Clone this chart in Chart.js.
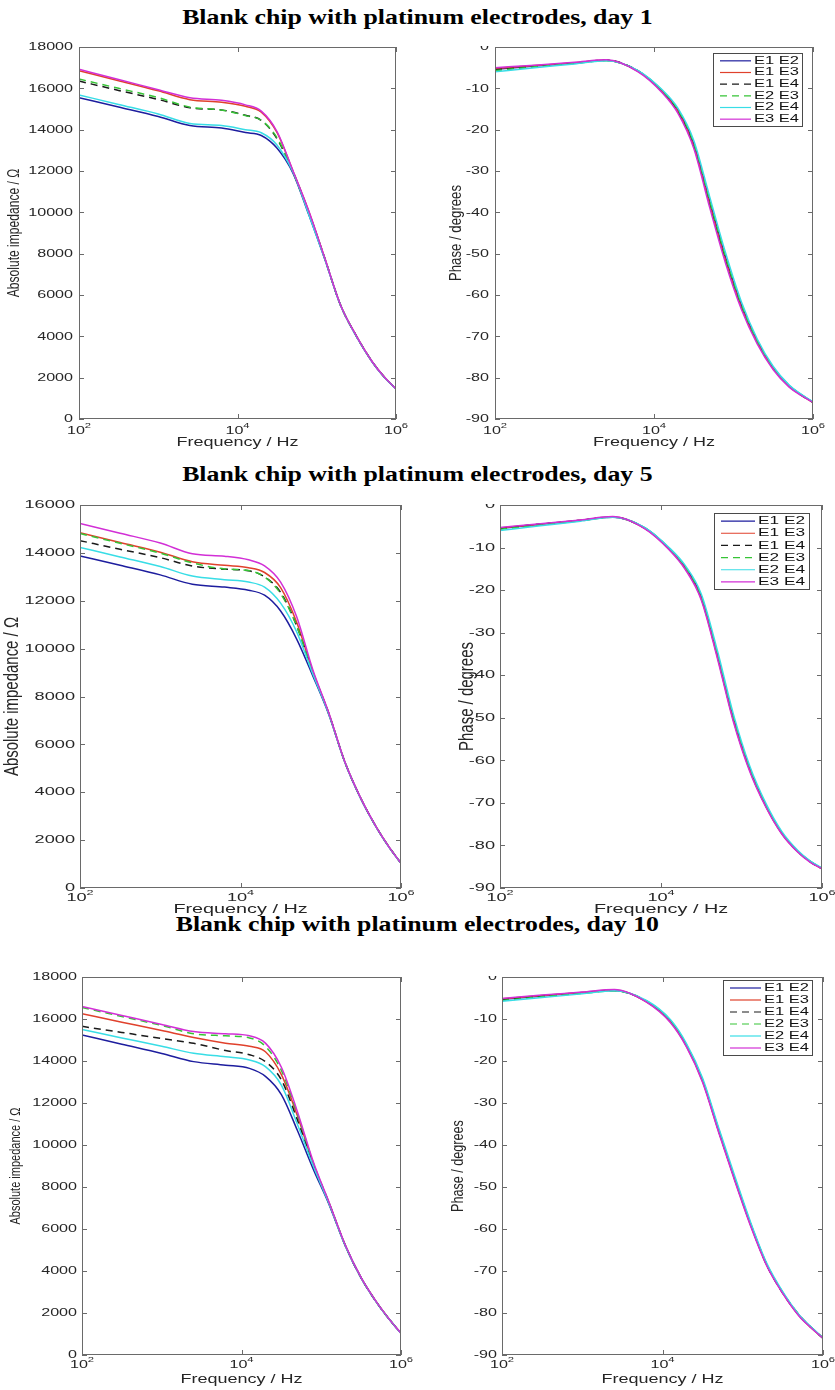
<!DOCTYPE html>
<html>
<head>
<meta charset="utf-8">
<script src="https://cdn.jsdelivr.net/npm/chart.js@4.4.0/dist/chart.umd.min.js"></script>
<style>
  body { margin: 0; background: #fff; }
  #page { position: relative; width: 835px; height: 1390px; overflow: hidden; background: #fff; }
  .title { position: absolute; left: 0; width: 835px; text-align: center; line-height: 24px;
           font: bold 20px "Liberation Serif", "Times New Roman", serif; color: #000;
           transform: scaleX(1.29); transform-origin: 418px 50%; }
  canvas { position: absolute; }
</style>
</head>
<body>
<div id="page">
  <div class="title" style="top:6px">Blank chip with platinum electrodes, day 1</div>
  <div class="title" style="top:463px">Blank chip with platinum electrodes, day 5</div>
  <div class="title" style="top:913px">Blank chip with platinum electrodes, day 10</div>
  <canvas id="mag1"></canvas>
  <canvas id="ph1"></canvas>
  <canvas id="mag5"></canvas>
  <canvas id="ph5"></canvas>
  <canvas id="mag10"></canvas>
  <canvas id="ph10"></canvas>
</div>
<script>
// sweep frequencies (Hz), shared by every curve
const freqHz = [100, 316, 1000, 2512, 6310, 12589, 19953, 31623, 50119, 79433,
                125893, 199526, 316228, 501187, 707946, 1000000];
const freqTicks = [100, 10000, 1000000];
const freqTickExp = ['2', '4', '6'];

const pairLabels = ['E1 E2', 'E1 E3', 'E1 E4', 'E2 E3', 'E2 E4', 'E3 E4'];
const pairColors = ['#1d1d9e', '#e0412c', '#1a1a1a', '#36c436', '#38dde6', '#d22fd6'];
const pairDashed = [false, false, true, true, false, false];

const impedanceTicks18k = [0, 2000, 4000, 6000, 8000, 10000, 12000, 14000, 16000, 18000];
const impedanceTicks16k = [0, 2000, 4000, 6000, 8000, 10000, 12000, 14000, 16000];
const phaseTicks = [0, -10, -20, -30, -40, -50, -60, -70, -80, -90];

// |Z| in ohm, one row per electrode pair (order of pairLabels)
const impedanceDay1 = [
  [15550, 15100, 14640, 14200, 14080, 13860, 13720, 13100, 11900, 9880, 7750, 5500, 4000, 2760, 2030, 1450],
  [16850, 16370, 15880, 15450, 15330, 15130, 14850, 13850, 12000, 10040, 7800, 5520, 4020, 2770, 2040, 1450],
  [16350, 15900, 15460, 15060, 14950, 14700, 14450, 13550, 11950, 9980, 7780, 5510, 4010, 2770, 2040, 1450],
  [16450, 16000, 15550, 15090, 14950, 14680, 14450, 13600, 11950, 9990, 7790, 5510, 4010, 2770, 2040, 1450],
  [15680, 15220, 14760, 14300, 14200, 14000, 13850, 13250, 11950, 9900, 7760, 5500, 4000, 2760, 2030, 1450],
  [16920, 16430, 15930, 15540, 15420, 15200, 14900, 13900, 12010, 10060, 7800, 5520, 4020, 2770, 2040, 1450]
];
const impedanceDay5 = [
  [13870, 13480, 13080, 12690, 12570, 12440, 12230, 11570, 10400, 8870, 7250, 5250, 3720, 2490, 1710, 1030],
  [14840, 14430, 14030, 13630, 13480, 13380, 13180, 12550, 11100, 9050, 7300, 5270, 3740, 2500, 1720, 1030],
  [14510, 14150, 13800, 13450, 13320, 13250, 13000, 12350, 10950, 9010, 7290, 5270, 3740, 2500, 1720, 1030],
  [14810, 14400, 13990, 13580, 13330, 13260, 12990, 12300, 10950, 9020, 7290, 5270, 3740, 2500, 1720, 1030],
  [14230, 13830, 13430, 13030, 12880, 12780, 12570, 11900, 10700, 8950, 7270, 5260, 3730, 2490, 1710, 1030],
  [15230, 14820, 14410, 13960, 13860, 13710, 13460, 12780, 11330, 9130, 7320, 5270, 3745, 2500, 1720, 1030]
];
const impedanceDay10 = [
  [15240, 14800, 14360, 13970, 13800, 13650, 13270, 12400, 10700, 8850, 7150, 5210, 3660, 2470, 1710, 1030],
  [16250, 15850, 15450, 15120, 14850, 14700, 14440, 13350, 11400, 9100, 7220, 5240, 3680, 2480, 1720, 1030],
  [15650, 15360, 15070, 14840, 14500, 14300, 13970, 13100, 11200, 9050, 7200, 5230, 3670, 2470, 1710, 1030],
  [16550, 16120, 15690, 15300, 15200, 15100, 14700, 13550, 11500, 9150, 7230, 5240, 3680, 2480, 1720, 1030],
  [15500, 15100, 14700, 14370, 14200, 14050, 13730, 12850, 11000, 9000, 7180, 5220, 3670, 2470, 1710, 1030],
  [16600, 16170, 15740, 15400, 15300, 15200, 14850, 13700, 11600, 9200, 7250, 5250, 3680, 2480, 1720, 1030]
];

// phase in degrees, same row order
const phaseDay1 = [
  [-5.4, -4.6, -3.9, -3.2, -5.8, -10.6, -15.3, -23.4, -37.3, -50.9, -62.5, -71.2, -77.6, -81.9, -84.1, -85.9],
  [-5.2, -4.5, -3.8, -3.2, -5.9, -10.8, -15.6, -24.0, -38.0, -51.6, -63.0, -71.5, -77.8, -82.1, -84.2, -86.0],
  [-5.5, -4.7, -3.9, -3.2, -5.8, -10.6, -15.4, -23.6, -37.5, -51.1, -62.6, -71.3, -77.7, -82.0, -84.2, -86.0],
  [-5.7, -4.8, -4.0, -3.3, -5.8, -10.5, -15.2, -23.3, -37.2, -50.8, -62.4, -71.2, -77.6, -81.9, -84.1, -85.9],
  [-6.0, -5.0, -4.1, -3.3, -5.7, -10.3, -14.8, -22.6, -36.2, -49.8, -61.7, -70.7, -77.3, -81.8, -84.0, -85.9],
  [-5.0, -4.4, -3.7, -3.1, -6.0, -11.0, -16.0, -24.5, -38.8, -52.3, -63.5, -71.9, -78.1, -82.3, -84.3, -86.0]
];
const phaseDay5 = [
  [-5.5, -4.5, -3.6, -2.8, -5.4, -10.2, -14.6, -21.5, -35.0, -50.0, -61.8, -70.4, -77.0, -81.4, -83.7, -85.4],
  [-5.4, -4.5, -3.6, -2.8, -5.5, -10.4, -14.9, -22.0, -35.6, -50.6, -62.2, -70.7, -77.2, -81.5, -83.8, -85.5],
  [-5.5, -4.5, -3.6, -2.8, -5.5, -10.3, -14.8, -21.8, -35.4, -50.4, -62.1, -70.6, -77.1, -81.5, -83.8, -85.5],
  [-5.7, -4.7, -3.7, -2.9, -5.4, -10.2, -14.6, -21.5, -35.0, -50.0, -61.8, -70.4, -77.0, -81.4, -83.7, -85.4],
  [-6.0, -4.9, -3.8, -2.9, -5.3, -10.0, -14.2, -20.9, -34.2, -49.2, -61.2, -70.0, -76.7, -81.2, -83.6, -85.3],
  [-5.3, -4.4, -3.5, -2.7, -5.6, -10.5, -15.1, -22.3, -36.0, -51.0, -62.5, -70.9, -77.3, -81.6, -83.9, -85.5]
];
const phaseDay10 = [
  [-5.3, -4.5, -3.7, -3.2, -5.8, -10.5, -16.3, -24.6, -36.4, -47.9, -58.9, -68.5, -75.2, -80.5, -83.4, -86.0],
  [-5.2, -4.4, -3.7, -3.1, -5.9, -10.7, -16.5, -24.9, -36.8, -48.3, -59.2, -68.7, -75.3, -80.6, -83.5, -86.0],
  [-5.4, -4.6, -3.8, -3.2, -5.8, -10.5, -16.4, -24.7, -36.6, -48.1, -59.0, -68.6, -75.3, -80.5, -83.4, -86.0],
  [-5.6, -4.7, -3.9, -3.3, -5.7, -10.4, -16.2, -24.5, -36.3, -47.8, -58.8, -68.4, -75.1, -80.4, -83.4, -85.9],
  [-5.8, -4.9, -4.0, -3.3, -5.6, -10.2, -15.9, -24.1, -35.9, -47.4, -58.5, -68.2, -75.0, -80.4, -83.3, -85.9],
  [-5.1, -4.3, -3.6, -3.0, -6.0, -10.9, -16.7, -25.1, -37.0, -48.5, -59.4, -68.8, -75.4, -80.7, -83.5, -86.0]
];

const SANS = '"Liberation Sans", Arial, Helvetica, sans-serif';

// text scaled along its own direction (sx) and across it (sy)
function drawText(ctx, str, x, y, align, sx, sy, rot) {
  ctx.save();
  ctx.translate(x, y);
  if (rot) ctx.rotate(rot);
  ctx.scale(sx || 1, sy || 1);
  ctx.textAlign = align;
  ctx.textBaseline = 'middle';
  ctx.fillText(str, 0, 0);
  ctx.restore();
}

// boxed axes with inward ticks, labels and an inset legend
// (page positions in the options are shifted by the canvas origin)
const matlabAxes = {
  id: 'matlabAxes',
  afterDraw(chart, args, o) {
    const { ctx, chartArea: ca, scales: { x, y } } = chart;
    const ox = o.box.x, oy = o.box.y;
    const L = ca.left, R = ca.right, T = ca.top, B = ca.bottom;
    ctx.save();
    ctx.strokeStyle = '#6a6a6a';
    ctx.lineWidth = 1;
    ctx.strokeRect(L + 0.5, T + 0.5, R - L - 1, B - T - 1);
    ctx.beginPath();
    o.yTicks.forEach(v => {
      const py = Math.round(y.getPixelForValue(v)) + 0.5;
      ctx.moveTo(L, py); ctx.lineTo(L + 5, py);
      ctx.moveTo(R - 5, py); ctx.lineTo(R, py);
    });
    freqTicks.forEach(v => {
      const px = Math.round(x.getPixelForValue(v)) + 0.5;
      ctx.moveTo(px, B); ctx.lineTo(px, B - 5);
      ctx.moveTo(px, T); ctx.lineTo(px, T + 5);
    });
    ctx.stroke();

    ctx.fillStyle = '#262626';
    ctx.font = o.tickSize + 'px ' + SANS;
    o.yTicks.forEach(v => {
      drawText(ctx, String(v), L - o.tickGap, y.getPixelForValue(v), 'right', o.sx, 1);
    });
    // decade labels: "10" with a raised exponent
    freqTicks.forEach((v, i) => {
      const px = x.getPixelForValue(v);
      ctx.font = o.tickSize + 'px ' + SANS;
      const wb = ctx.measureText('10').width * o.sx;
      ctx.font = o.expSize + 'px ' + SANS;
      const we = ctx.measureText(freqTickExp[i]).width * o.sx;
      const x0 = px - (wb + we) / 2;
      ctx.font = o.tickSize + 'px ' + SANS;
      drawText(ctx, '10', x0, B + o.xTickDy, 'left', o.sx, 1);
      ctx.font = o.expSize + 'px ' + SANS;
      drawText(ctx, freqTickExp[i], x0 + wb, B + o.xTickDy - 5, 'left', o.sx, 1);
    });

    ctx.font = o.titleSize + 'px ' + SANS;
    drawText(ctx, 'Frequency / Hz', (L + R) / 2, o.xTitleY - oy, 'center', o.titleSx, 1);
    ctx.font = o.yTitleSize + 'px ' + SANS;
    drawText(ctx, o.yTitle, o.yTitleX - ox, (T + B) / 2, 'center', o.yTitleLen, o.sx, -Math.PI / 2);

    if (o.legend) {
      const lg = o.legend;
      const lx = lg.x - ox, ly = lg.y - oy;
      ctx.fillStyle = '#fff';
      ctx.fillRect(lx, ly, lg.w, lg.h);
      ctx.strokeStyle = '#4a4a4a';
      ctx.lineWidth = 1;
      ctx.strokeRect(lx + 0.5, ly + 0.5, lg.w - 1, lg.h - 1);
      const rowH = (lg.h - 4) / pairLabels.length;
      ctx.font = lg.size + 'px ' + SANS;
      pairLabels.forEach((lab, i) => {
        const cy = ly + 2 + rowH * (i + 0.5);
        ctx.strokeStyle = pairColors[i];
        ctx.lineWidth = 1.2;
        ctx.setLineDash(pairDashed[i] ? [7, 5] : []);
        ctx.beginPath();
        ctx.moveTo(lx + 7, cy); ctx.lineTo(lx + lg.line, cy);
        ctx.stroke();
        ctx.setLineDash([]);
        ctx.fillStyle = '#111';
        drawText(ctx, lab, lx + lg.line + 3, cy, 'left', lg.sx, 1);
      });
    }
    ctx.restore();
  }
};

function makePanel(id, box, area, series, yMin, yMax, axisOpts) {
  const canvas = document.getElementById(id);
  canvas.width = box.w;
  canvas.height = box.h;
  canvas.style.left = box.x + 'px';
  canvas.style.top = box.y + 'px';
  return new Chart(canvas, {
    type: 'line',
    data: {
      datasets: series.map((vals, i) => ({
        label: pairLabels[i],
        data: vals.map((v, j) => ({ x: freqHz[j], y: v })),
        borderColor: pairColors[i],
        borderWidth: 1.5,
        borderDash: pairDashed[i] ? [7, 5] : [],
        pointRadius: 0,
        cubicInterpolationMode: 'monotone',
        fill: false,
        order: pairLabels.length - i
      }))
    },
    options: {
      responsive: false,
      animation: false,
      devicePixelRatio: 1,
      layout: {
        padding: {
          left: area.l - box.x,
          top: area.t - box.y,
          right: box.x + box.w - area.r,
          bottom: box.y + box.h - area.b
        }
      },
      scales: {
        x: { type: 'logarithmic', min: 100, max: 1000000, display: false },
        y: { type: 'linear', min: yMin, max: yMax, display: false }
      },
      plugins: {
        legend: { display: false },
        tooltip: { enabled: false },
        matlabAxes: Object.assign({ box }, axisOpts)
      }
    },
    plugins: [matlabAxes]
  });
}

const row1Text = { tickSize: 11.5, expSize: 8, sx: 1.4, tickGap: 6, xTickDy: 12, titleSize: 12, titleSx: 1.5 };
const row2Text = { tickSize: 11.5, expSize: 8, sx: 1.58, tickGap: 5, xTickDy: 10, titleSize: 12, titleSx: 1.65 };
const row3Text = { tickSize: 11.5, expSize: 8, sx: 1.4, tickGap: 5, xTickDy: 10, titleSize: 12, titleSx: 1.5 };

const magTitle = 'Absolute impedance / \u03A9';
const phaseTitle = 'Phase / degrees';

makePanel('mag1', { x: 0, y: 36, w: 420, h: 422 }, { l: 79, t: 47, r: 396, b: 419 },
  impedanceDay1, 0, 18000,
  Object.assign({ yTicks: impedanceTicks18k, yTitle: magTitle, yTitleX: 15, xTitleY: 443,
    yTitleSize: 11.5, yTitleLen: 1.05 }, row1Text));
makePanel('ph1', { x: 420, y: 46, w: 415, h: 412 }, { l: 495, t: 47, r: 813, b: 419 },
  phaseDay1, -90, 0,
  Object.assign({ yTicks: phaseTicks, yTitle: phaseTitle, yTitleX: 456, xTitleY: 443,
    yTitleSize: 12, yTitleLen: 1.1,
    legend: { x: 713, y: 53, w: 90, h: 74, line: 38, size: 10, sx: 1.65 } }, row1Text));

makePanel('mag5', { x: 0, y: 494, w: 420, h: 430 }, { l: 80, t: 505, r: 401, b: 888 },
  impedanceDay5, 0, 16000,
  Object.assign({ yTicks: impedanceTicks16k, yTitle: magTitle, yTitleX: 12, xTitleY: 910,
    yTitleSize: 13, yTitleLen: 1.15 }, row2Text));
makePanel('ph5', { x: 420, y: 504, w: 415, h: 420 }, { l: 500, t: 505, r: 822, b: 888 },
  phaseDay5, -90, 0,
  Object.assign({ yTicks: phaseTicks, yTitle: phaseTitle, yTitleX: 467, xTitleY: 910,
    yTitleSize: 13, yTitleLen: 1.15,
    legend: { x: 714, y: 513, w: 96, h: 77, line: 41, size: 11.5, sx: 1.5 } }, row2Text));

makePanel('mag10', { x: 0, y: 964, w: 420, h: 426 }, { l: 82, t: 977, r: 401, b: 1355 },
  impedanceDay10, 0, 18000,
  Object.assign({ yTicks: impedanceTicks18k, yTitle: magTitle, yTitleX: 16, xTitleY: 1380,
    yTitleSize: 11, yTitleLen: 1 }, row3Text));
makePanel('ph10', { x: 420, y: 976, w: 415, h: 414 }, { l: 502, t: 977, r: 823, b: 1355 },
  phaseDay10, -90, 0,
  Object.assign({ yTicks: phaseTicks, yTitle: phaseTitle, yTitleX: 458, xTitleY: 1380,
    yTitleSize: 12, yTitleLen: 1.05,
    legend: { x: 723, y: 980, w: 90, h: 76, line: 38, size: 10, sx: 1.65 } }, row3Text));
</script>
</body>
</html>
